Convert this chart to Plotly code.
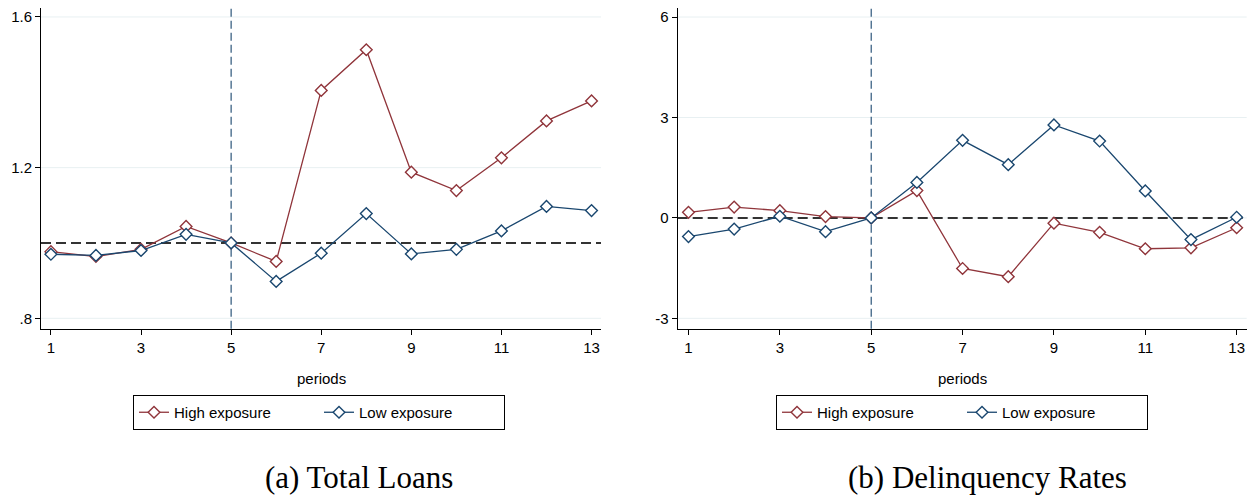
import plotly.graph_objects as go

periods = list(range(1, 14))

loans_high = [0.977, 0.964, 0.983, 1.044, 1.0, 0.951, 1.405, 1.513, 1.188, 1.139, 1.226, 1.324, 1.377]
loans_low = [0.970, 0.967, 0.980, 1.023, 1.0, 0.898, 0.973, 1.078, 0.971, 0.983, 1.032, 1.097, 1.086]

delinq_high = [0.167, 0.324, 0.216, 0.039, 0.0, 0.815, -1.511, -1.757, -0.157, -0.432, -0.922, -0.893, -0.294]
delinq_low = [-0.559, -0.334, 0.049, -0.412, 0.0, 1.060, 2.316, 1.590, 2.777, 2.296, 0.805, -0.648, 0.020]

x_ticks = [1, 3, 5, 7, 9, 11, 13]
loans_ticks = [0.8, 1.2, 1.6]
loans_ticktext = [".8", "1.2", "1.6"]
delinq_ticks = [-3, 0, 3, 6]
delinq_ticktext = ["-3", "0", "3", "6"]

series_names = ["High exposure", "Low exposure"]
captions = ["(a) Total Loans", "(b) Delinquency Rates"]
event_period = 5
ref_loans = 1.0
ref_delinq = 0.0

MAROON = "#90353b"
NAVY = "#1a476f"
GRID = "#e8f0f2"
OFF = 8  # page body margin
FW, FH = 1259 - OFF, 497 - OFF
FONT = "Liberation Sans, Arial, sans-serif"


def px(x):
    return (x - OFF) / FW


def py(y):
    return min(1.0, 1 - (y - OFF) / FH)


fig = go.Figure()


def add_series(xa, ya, high, low, legend):
    for name, vals, col in [(series_names[0], high, MAROON), (series_names[1], low, NAVY)]:
        fig.add_trace(go.Scatter(
            x=periods, y=vals, mode="lines+markers", name=name,
            xaxis=xa, yaxis=ya, legend=legend,
            line=dict(color=col, width=1.3),
            marker=dict(symbol="diamond", size=9, color="white",
                        line=dict(color=col, width=1.4)),
        ))


add_series("x", "y", loans_high, loans_low, "legend")
add_series("x2", "y2", delinq_high, delinq_low, "legend2")

ydom = [py(328.7), py(8)]
axis_common = dict(
    showline=True, linecolor="black", linewidth=1,
    ticks="outside", ticklen=5, tickcolor="black", tickwidth=1,
    tickfont=dict(family=FONT, size=15, color="black"),
    zeroline=False, automargin=False, showgrid=False,
    ticklabeloverflow="allow",
)
legend_common = dict(orientation="h", y=py(395), yanchor="top", xanchor="center",
                     bordercolor="black", borderwidth=1,
                     font=dict(family=FONT, size=15, color="black"),
                     entrywidth=140, bgcolor="white")

fig.update_layout(
    width=FW, height=FH,
    margin=dict(l=0, r=0, t=0, b=0),
    paper_bgcolor="white", plot_bgcolor="white",
    xaxis=dict(domain=[px(41), px(601)], range=[0.78, 13.21], tickvals=x_ticks,
               anchor="y", **axis_common),
    yaxis=dict(domain=ydom, range=[0.7724, 1.6238], tickvals=loans_ticks,
               ticktext=loans_ticktext, anchor="x", **axis_common),
    xaxis2=dict(domain=[px(677.7), px(1246.7)], range=[0.764, 13.22], tickvals=x_ticks,
                anchor="y2", **axis_common),
    yaxis2=dict(domain=ydom, range=[-3.310, 6.27], tickvals=delinq_ticks,
                ticktext=delinq_ticktext, anchor="x2", **axis_common),
    legend=dict(x=px(319), **legend_common),
    legend2=dict(x=px(962), **legend_common),
    showlegend=True,
)

# gridlines (drawn as shapes so the reference lines can sit on top of them)
for xr, yr, ticks in [("x", "y", loans_ticks), ("x2", "y2", delinq_ticks)]:
    for t in ticks:
        fig.add_shape(type="line", xref=f"{xr} domain", yref=yr, x0=0, x1=1, y0=t, y1=t,
                      line=dict(color=GRID, width=1), layer="below")

# reference lines
for xr, yr, ref in [("x", "y", ref_loans), ("x2", "y2", ref_delinq)]:
    fig.add_shape(type="line", xref=f"{xr} domain", yref=yr, x0=0, x1=1, y0=ref, y1=ref,
                  line=dict(color="#333333", width=2, dash="10px,5px"), layer="below")
    fig.add_shape(type="line", xref=xr, yref=f"{yr} domain", x0=event_period, x1=event_period,
                  y0=0, y1=1, line=dict(color=NAVY, width=1.1, dash="8px,4px"), layer="below")

# axis titles
for xc in [321, 962]:
    fig.add_annotation(text="periods", x=px(xc), y=py(378), xref="paper", yref="paper",
                       showarrow=False, xanchor="center", yanchor="middle",
                       font=dict(family=FONT, size=15, color="black"))

# captions
for cap, xc in zip(captions, [359.4, 987.5]):
    fig.add_annotation(text=cap, x=px(xc), y=py(477), xref="paper", yref="paper",
                       showarrow=False, xanchor="center", yanchor="middle",
                       font=dict(family="Liberation Serif, Times New Roman, serif", size=31, color="black"))

fig.write_html("out.html")
